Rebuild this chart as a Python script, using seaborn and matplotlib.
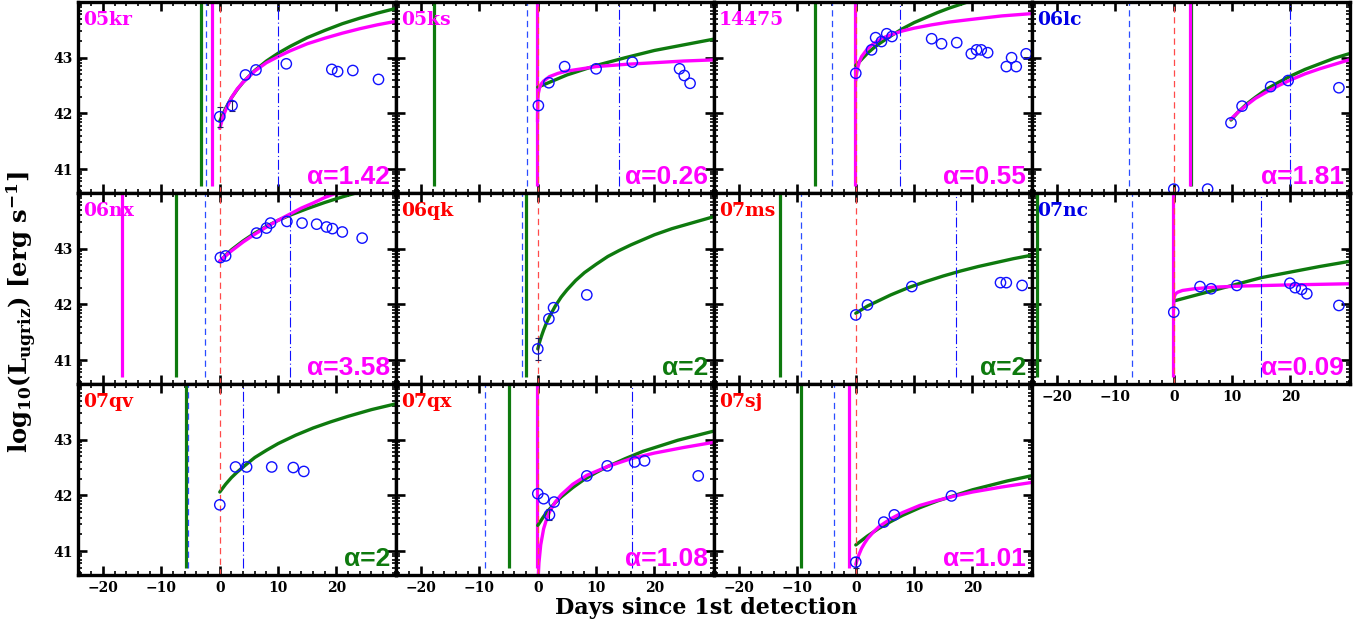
import numpy as np
import pandas as pd
import matplotlib
matplotlib.use("Agg")
import matplotlib.pyplot as plt
import seaborn as sns
from matplotlib.ticker import MultipleLocator, FixedLocator

# ---------------- data ----------------
names = ["05kr", "05ks", "14475", "06lc", "06nx", "06qk", "07ms", "07nc",
         "07qv", "07qx", "07sj"]
name_colors = ["#ff00ff", "#ff00ff", "#ff00ff", "#0000e6", "#ff00ff", "#ff0000",
               "#ff0000", "#0000e6", "#ff0000", "#ff0000", "#ff0000"]
alpha_labels = ["α=1.42", "α=0.26", "α=0.55", "α=1.81", "α=3.58", "α=2",
                "α=2", "α=0.09", "α=2", "α=1.08", "α=1.01"]
alpha_colors = ["#ff00ff", "#ff00ff", "#ff00ff", "#ff00ff", "#ff00ff", "#0e7a0e",
                "#0e7a0e", "#ff00ff", "#0e7a0e", "#ff00ff", "#ff00ff"]

# explosion epochs (days) of the alpha=2 fit (green) and free-alpha fit (magenta)
t0_green = [-3.25, -17.8, -7.0, 2.9, -7.5, -2.1, -13.0, -23.5, -5.8, -5.0, -9.4]
t0_magenta = [-1.4, -0.05, -0.2, 2.7, -16.8, None, None, -0.05, None, -0.1, -1.1]
# last non-detection (blue dashed) and end of fit window (blue dash-dot)
t_nondet = [-2.4, -1.9, -4.1, -7.7, -2.6, -2.7, -9.4, -7.2, -5.5, -9.1, -3.8]
t_fitend = [10.0, 13.9, 7.5, 19.9, 12.0, None, 17.1, 15.0, 4.0, 16.1, None]

obs_days = [
    [0, 2.1, 4.4, 6.2, 11.4, 19.2, 20.2, 22.8, 27.2],
    [0.1, 1.9, 4.6, 10.0, 16.2, 24.3, 25.1, 26.1],
    [0, 2.7, 3.4, 4.4, 5.3, 6.2, 13.0, 14.7, 17.3, 19.8, 20.7, 21.5, 22.6, 25.8, 26.7, 27.5, 29.2],
    [0, 5.8, 9.8, 11.7, 16.6, 19.6, 28.3],
    [0.1, 1.0, 6.3, 8.0, 8.7, 11.5, 14.1, 16.6, 18.3, 19.3, 21.0, 24.4],
    [0, 1.9, 2.7, 8.4],
    [0, 2.0, 9.6, 24.8, 25.8, 28.5],
    [0, 4.5, 6.4, 10.8, 19.9, 20.8, 21.9, 22.8, 28.3],
    [0, 2.7, 4.6, 8.9, 12.6, 14.4],
    [0, 1.0, 2.0, 2.8, 8.4, 11.9, 16.6, 18.3, 27.5],
    [0, 4.8, 6.6, 16.4],
]
obs_logL = [
    [41.94, 42.14, 42.69, 42.78, 42.89, 42.79, 42.75, 42.77, 42.61],
    [42.14, 42.55, 42.84, 42.80, 42.92, 42.80, 42.68, 42.54],
    [42.72, 43.14, 43.36, 43.29, 43.43, 43.38, 43.34, 43.25, 43.27, 43.07, 43.14, 43.14, 43.09, 42.84, 43.00, 42.84, 43.07],
    [40.64, 40.64, 41.83, 42.13, 42.48, 42.59, 42.46],
    [42.84, 42.87, 43.28, 43.37, 43.46, 43.49, 43.46, 43.44, 43.39, 43.36, 43.30, 43.19],
    [41.20, 41.74, 41.94, 42.17],
    [41.81, 41.99, 42.32, 42.39, 42.39, 42.34],
    [41.86, 42.32, 42.28, 42.34, 42.38, 42.30, 42.27, 42.19, 41.98],
    [41.83, 42.51, 42.51, 42.51, 42.50, 42.43],
    [42.03, 41.94, 41.65, 41.88, 42.35, 42.53, 42.60, 42.62, 42.35],
    [40.80, 41.52, 41.65, 41.99],
]
# error bars (only the few visible ones)
err_panel = [0, 0, 5, 9, 10]
err_day = [0, 2.1, 0, 2.0, 0]
err_logL = [41.94, 42.14, 41.20, 41.65, 40.80]
err_size = [0.18, 0.09, 0.2, 0.1, 0.1]

# fit curves, alpha = 2 (green)
green_days = [
    [0, 1, 2, 3, 4, 6, 8, 10, 12, 15, 18, 21, 24, 27, 30],
    [0, 5, 10, 15, 20, 25, 30],
    [0, 1, 2, 3, 4, 6, 8, 10, 12, 14, 16, 18, 20],
    [9.8, 11, 12.5, 14, 16, 18, 20, 22.5, 25, 27.5, 30],
    [0, 1, 2, 4, 6, 8, 10, 12, 15, 18, 21, 24, 27],
    [0, 0.3, 0.6, 1, 1.5, 2, 3, 4, 5, 6.5, 8, 10, 12, 14, 16, 18, 20, 23, 26, 30],
    [0, 2, 4, 6, 9, 12, 15, 18, 21, 24, 27, 30],
    [0, 5, 10, 15, 20, 25, 30],
    [0, 1, 2, 3, 4, 6, 8, 10, 13, 16, 19, 22, 26, 30],
    [0, 1, 2, 3, 4, 6, 8, 10, 12, 15, 18, 21, 24, 27, 30],
    [0, 2, 4, 6, 8, 11, 14, 17, 20, 23, 26, 30],
]
green_logL = [
    [41.86, 42.09, 42.28, 42.43, 42.56, 42.77, 42.94, 43.08, 43.20, 43.36, 43.49, 43.61, 43.71, 43.80, 43.88],
    [42.47, 42.69, 42.86, 43.00, 43.13, 43.23, 43.33],
    [42.86, 42.97, 43.08, 43.17, 43.25, 43.39, 43.52, 43.63, 43.72, 43.81, 43.89, 43.96, 44.03],
    [41.88, 42.02, 42.17, 42.29, 42.44, 42.56, 42.67, 42.79, 42.89, 42.99, 43.07],
    [42.77, 42.88, 42.98, 43.14, 43.28, 43.40, 43.51, 43.60, 43.72, 43.83, 43.93, 44.02, 44.10],
    [41.20, 41.32, 41.42, 41.54, 41.67, 41.78, 41.97, 42.13, 42.26, 42.43, 42.57, 42.72, 42.86, 42.97, 43.07, 43.16, 43.25, 43.36, 43.45, 43.57],
    [41.84, 41.97, 42.07, 42.17, 42.30, 42.41, 42.51, 42.60, 42.68, 42.75, 42.82, 42.88],
    [42.06, 42.20, 42.34, 42.48, 42.58, 42.68, 42.77],
    [42.06, 42.20, 42.32, 42.42, 42.51, 42.68, 42.81, 42.93, 43.08, 43.21, 43.32, 43.42, 43.54, 43.64],
    [41.46, 41.62, 41.75, 41.87, 41.97, 42.14, 42.29, 42.41, 42.52, 42.66, 42.79, 42.89, 42.99, 43.07, 43.15],
    [41.11, 41.27, 41.41, 41.53, 41.64, 41.78, 41.90, 42.00, 42.10, 42.18, 42.26, 42.35],
]
# fit curves, free alpha (magenta)
magenta_days = [
    [0, 0.5, 1, 2, 3, 4, 6, 8, 10, 12, 15, 18, 21, 24, 27, 30],
    [-0.045, 0, 0.1, 0.3, 0.6, 1, 2, 3.5, 5, 7.5, 10, 15, 20, 25, 30],
    [0, 0.1, 0.3, 0.6, 1, 2, 3, 4.5, 6, 8, 10, 13, 16, 20, 25, 30],
    [9.8, 11, 12.5, 14, 16, 18, 20, 22.5, 25, 27.5, 30],
    [0, 2, 4, 6, 8, 10, 12, 14, 16, 18, 20, 22],
    [],
    [],
    [-0.045, 0, 0.1, 0.3, 0.7, 1.5, 3.5, 7, 12, 20, 30],
    [],
    [0.08, 0.2, 0.5, 1, 1.5, 2, 3, 4, 6, 8.4, 12, 16, 20, 25, 30],
    [0, 0.3, 0.6, 1, 1.5, 2, 3, 4, 6, 8, 11, 14, 17, 20, 25, 30],
]
magenta_logL = [
    [41.73, 41.92, 42.06, 42.28, 42.44, 42.56, 42.76, 42.91, 43.02, 43.12, 43.25, 43.35, 43.44, 43.52, 43.59, 43.65],
    [41.85, 42.24, 42.36, 42.46, 42.53, 42.58, 42.66, 42.72, 42.76, 42.80, 42.84, 42.88, 42.91, 42.94, 42.96],
    [42.59, 42.69, 42.81, 42.92, 43.02, 43.16, 43.25, 43.35, 43.41, 43.48, 43.53, 43.59, 43.64, 43.69, 43.75, 43.79],
    [41.90, 42.02, 42.15, 42.27, 42.39, 42.50, 42.60, 42.71, 42.80, 42.88, 42.96],
    [42.78, 42.96, 43.12, 43.26, 43.39, 43.51, 43.62, 43.73, 43.82, 43.92, 44.00, 44.08],
    [],
    [],
    [41.90, 42.08, 42.14, 42.19, 42.22, 42.25, 42.28, 42.31, 42.33, 42.35, 42.37],
    [],
    [40.55, 40.79, 41.11, 41.40, 41.57, 41.70, 41.88, 42.01, 42.20, 42.36, 42.52, 42.66, 42.76, 42.86, 42.95],
    [40.76, 40.87, 40.95, 41.05, 41.14, 41.22, 41.34, 41.44, 41.58, 41.69, 41.82, 41.91, 41.99, 42.06, 42.15, 42.23],
]

x_major_ticks = [-20, -10, 0, 10, 20]
y_major_ticks = [41, 42, 43]

# ---------------- style ----------------
sns.set_theme(style="ticks")
plt.rcParams['font.family'] = ['DejaVu Serif', 'DejaVu Sans']
plt.rcParams['font.weight'] = 'bold'
plt.rcParams['mathtext.fontset'] = 'dejavuserif'
plt.rcParams['mathtext.default'] = 'bf'
plt.rcParams['text.color'] = 'black'
plt.rcParams['axes.labelcolor'] = 'black'
plt.rcParams['xtick.color'] = 'black'
plt.rcParams['ytick.color'] = 'black'
plt.rcParams['xtick.labelcolor'] = 'black'
plt.rcParams['ytick.labelcolor'] = 'black'
plt.rcParams['axes.edgecolor'] = 'black'
plt.rcParams['axes.linewidth'] = 2.4
plt.rcParams['axes.unicode_minus'] = True

GREEN = "#0e7a0e"
MAGENTA = "#ff00ff"
BLUE = "#1010ff"
BLUE_LINE = "#2a4cff"
RED_LINE = "#ff4a4a"

W, H = 1368, 628
fig = plt.figure(figsize=(W / 100, H / 100), dpi=100)
fig.patch.set_facecolor("white")

col_left = [78, 396, 714, 1032]
row_top = [2, 193, 384]
pw, ph = 318, 191
XLIM = (-24.3, 30.2)
YLIM = (40.57, 44.0)
minor_y = [n + np.log10(k) for n in range(40, 45) for k in range(2, 10)]

for i, name in enumerate(names):
    r, c = divmod(i, 4)
    ax = fig.add_axes([col_left[c] / W, 1 - (row_top[r] + ph) / H, pw / W, ph / H])
    ax.set_xlim(*XLIM)
    ax.set_ylim(*YLIM)

    # vertical epoch lines (solid)
    ax.vlines(t0_green[i], 40.7, 44.2, color=GREEN, lw=2.3, zorder=2)
    if t0_magenta[i] is not None:
        ax.vlines(t0_magenta[i], 40.7, 44.2, color=MAGENTA, lw=2.3, zorder=2)

    # fit curves
    gdf = pd.DataFrame({"day": green_days[i], "logL": green_logL[i]})
    sns.lineplot(data=gdf, x="day", y="logL", ax=ax, color=GREEN, lw=2.4,
                 estimator=None, sort=False, legend=False, zorder=3)
    if magenta_days[i]:
        mdf = pd.DataFrame({"day": magenta_days[i], "logL": magenta_logL[i]})
        sns.lineplot(data=mdf, x="day", y="logL", ax=ax, color=MAGENTA, lw=2.4,
                     estimator=None, sort=False, legend=False, zorder=4)

    # dashed reference lines
    ax.vlines(t_nondet[i], 40.7, 44.2, color=BLUE_LINE, lw=0.9,
              linestyles=(0, (5, 3.5)), zorder=5)
    ax.vlines(0, 40.57, 44.2, color=RED_LINE, lw=0.9,
              linestyles=(0, (5, 3.5)), zorder=5)
    if t_fitend[i] is not None:
        ax.vlines(t_fitend[i], 40.7, 44.2, color=BLUE, lw=0.8,
                  linestyles=(0, (9, 2.5, 1, 2.5)), zorder=5)

    # error bars
    for p, d, v, e in zip(err_panel, err_day, err_logL, err_size):
        if p == i:
            ax.errorbar(d, v, yerr=e, fmt="none", ecolor="#202060", elinewidth=0.8,
                        capsize=2, capthick=0.8, zorder=5)

    # observations
    odf = pd.DataFrame({"day": obs_days[i], "logL": obs_logL[i]})
    sns.scatterplot(data=odf, x="day", y="logL", ax=ax, marker="o", s=55,
                    facecolor="none", edgecolor=BLUE, linewidth=1.0, zorder=6,
                    legend=False, clip_on=True)

    # texts
    ax.text(0.016, 0.905, name, transform=ax.transAxes, color=name_colors[i],
            fontsize=13.5, fontweight="bold", family=["DejaVu Serif"], va="center", ha="left")
    ax.text(0.982, 0.045, alpha_labels[i], transform=ax.transAxes, color=alpha_colors[i],
            fontsize=19, fontweight="bold", family=["Liberation Sans", "DejaVu Sans"],
            va="baseline", ha="right", zorder=7)

    # ticks
    ax.xaxis.set_major_locator(FixedLocator(x_major_ticks))
    ax.xaxis.set_minor_locator(MultipleLocator(2))
    ax.yaxis.set_major_locator(FixedLocator(y_major_ticks))
    ax.yaxis.set_minor_locator(FixedLocator(minor_y))
    ax.tick_params(which="both", direction="in", top=True, right=True,
                   bottom=True, left=True, colors="black", labelcolor="black")
    ax.tick_params(which="major", length=6.5, width=1.9, labelsize=10, pad=4)
    ax.tick_params(which="minor", length=3, width=1.2)
    for lab in ax.get_xticklabels() + ax.get_yticklabels():
        lab.set_fontweight("bold")
        lab.set_color("black")
    ax.set_xlabel("")
    ax.set_ylabel("")
    if c != 0:
        ax.set_yticklabels([])
    if not (r == 2 or i == 7):
        ax.set_xticklabels([])
    for sp in ax.spines.values():
        sp.set_linewidth(2.4)
        sp.set_color("black")
        sp.set_zorder(8)

fig.text(22 / W, 1 - 312 / H, r"log$_{10}$(L$_{ugriz}$) [erg s$^{-1}$]",
         rotation=90, ha="center", va="center", fontsize=17.5, fontweight="bold",
         color="black")
fig.text(706 / W, 1 - 608 / H, "Days since 1st detection", ha="center", va="center",
         fontsize=16, fontweight="bold", color="black")

fig.savefig("out.png", dpi=100, facecolor="white")
